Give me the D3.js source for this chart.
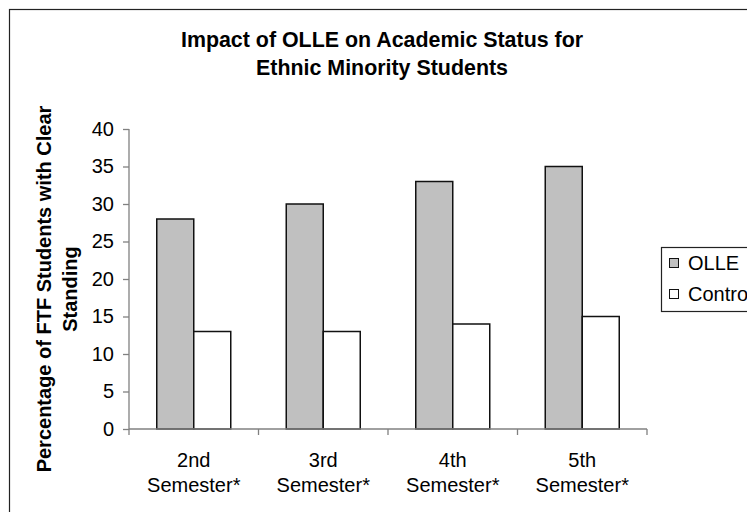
<!DOCTYPE html>
<html>
<head>
<meta charset="utf-8">
<script src="https://cdn.jsdelivr.net/npm/d3@7"></script>
<style>
  body { margin: 0; background: #fff; }
  svg { display: block; font-family: "Liberation Sans", Arial, sans-serif; }
</style>
</head>
<body>
<script>
const w = 747;
const h = 512;

const categories = ["2nd|Semester*", "3rd|Semester*", "4th|Semester*", "5th|Semester*"];
const seriesNames = ["OLLE", "Control"];
const olle = [28, 30, 33, 35];
const control = [13, 13, 14, 15];
const yTicks = [0, 5, 10, 15, 20, 25, 30, 35, 40];
const titleLines = ["Impact of OLLE on Academic Status for", "Ethnic Minority Students"];
const yTitleLines = ["Percentage of FTF Students with Clear", "Standing"];
const fills = ["#c0c0c0", "#ffffff"];

const plot = {left: 129, right: 647, top: 129, bottom: 429};

const svg = d3.select("body")
  .append("svg")
  .attr("width", w)
  .attr("height", h);

// outer frame (runs off the right and bottom edges)
svg.append("rect")
  .attr("x", 9.5).attr("y", 9.5)
  .attr("width", 780).attr("height", 540)
  .attr("fill", "#fff")
  .attr("stroke", "#222")
  .attr("stroke-width", 1.2);

const xScale = d3.scaleBand()
  .domain(categories)
  .range([plot.left, plot.right]);

const xInner = d3.scaleBand()
  .domain(seriesNames)
  .range([0, xScale.bandwidth()])
  .paddingOuter(0.75);

const yScale = d3.scaleLinear()
  .domain([0, 40])
  .range([plot.bottom, plot.top]);

// title
svg.append("g").selectAll("text")
  .data(titleLines)
  .enter()
  .append("text")
  .attr("x", 382)
  .attr("y", (d, i) => 47 + i * 28)
  .attr("text-anchor", "middle")
  .attr("font-size", 21.4)
  .attr("font-weight", "bold")
  .attr("fill", "#000")
  .text((d) => d);

// y title
svg.append("g")
  .attr("transform", "translate(0,289) rotate(-90)")
  .selectAll("text")
  .data(yTitleLines)
  .enter()
  .append("text")
  .attr("x", 0)
  .attr("y", (d, i) => 51 + i * 26)
  .attr("text-anchor", "middle")
  .attr("font-size", 20)
  .attr("font-weight", "bold")
  .attr("fill", "#000")
  .text((d) => d);

// bars
const rows = categories.map((c, i) => ({cat: c, values: [olle[i], control[i]]}));

const groups = svg.selectAll(".grp")
  .data(rows)
  .enter()
  .append("g")
  .attr("class", "grp")
  .attr("transform", (d) => "translate(" + xScale(d.cat) + ",0)");

groups.selectAll("rect")
  .data((d) => d.values.map((v, j) => ({name: seriesNames[j], value: v, j: j})))
  .enter()
  .append("rect")
  .attr("x", (d) => xInner(d.name))
  .attr("y", (d) => yScale(d.value))
  .attr("width", xInner.bandwidth())
  .attr("height", (d) => yScale(0) - yScale(d.value))
  .attr("fill", (d) => fills[d.j])
  .attr("stroke", "#111")
  .attr("stroke-width", 1.5);

// y axis
const yAxis = d3.axisLeft(yScale).tickValues(yTicks).tickSize(6).tickPadding(9);
const gy = svg.append("g")
  .attr("transform", "translate(" + plot.left + ",0)")
  .call(yAxis);
gy.select(".domain").attr("stroke", "#808080").attr("stroke-width", 1.3).attr("d", "M0," + plot.top + "V" + plot.bottom);
gy.selectAll(".tick line").attr("stroke", "#808080").attr("stroke-width", 1.3);
gy.selectAll(".tick text")
  .attr("font-size", 20)
  .attr("fill", "#000")
  .attr("font-family", "Liberation Sans, Arial, sans-serif");

// x axis: line with ticks between categories
const gx = svg.append("g");
gx.append("line")
  .attr("x1", plot.left).attr("x2", plot.right)
  .attr("y1", plot.bottom).attr("y2", plot.bottom)
  .attr("stroke", "#808080").attr("stroke-width", 1.3);
const bounds = categories.map((c) => xScale(c)).concat([xScale(categories[categories.length - 1]) + xScale.bandwidth()]);
gx.selectAll(".xt")
  .data(bounds)
  .enter()
  .append("line")
  .attr("x1", (d) => d).attr("x2", (d) => d)
  .attr("y1", plot.bottom).attr("y2", plot.bottom + 6)
  .attr("stroke", "#808080").attr("stroke-width", 1.3);

const xl = gx.selectAll(".xl")
  .data(categories)
  .enter()
  .append("text")
  .attr("text-anchor", "middle")
  .attr("font-size", 20)
  .attr("fill", "#000");
xl.selectAll("tspan")
  .data((d) => d.split("|").map((s) => ({s: s, c: d})))
  .enter()
  .append("tspan")
  .attr("x", (d) => xScale(d.c) + xScale.bandwidth() / 2)
  .attr("y", (d, i) => 467 + i * 25)
  .text((d) => d.s);

// legend (cut by the right edge, as in the original)
const lg = svg.append("g");
lg.append("rect")
  .attr("x", 661.5).attr("y", 247.5)
  .attr("width", 120).attr("height", 64)
  .attr("fill", "#fff")
  .attr("stroke", "#222")
  .attr("stroke-width", 1.2);
const items = lg.selectAll(".li")
  .data(seriesNames)
  .enter()
  .append("g")
  .attr("transform", (d, i) => "translate(0," + (263 + i * 31) + ")");
items.append("rect")
  .attr("x", 669.5).attr("y", -4.5)
  .attr("width", 9).attr("height", 9)
  .attr("fill", (d, i) => fills[i])
  .attr("stroke", "#111")
  .attr("stroke-width", 1);
items.append("text")
  .attr("x", 688)
  .attr("y", 7)
  .attr("font-size", 20)
  .attr("fill", "#000")
  .text((d) => d);
</script>
</body>
</html>
